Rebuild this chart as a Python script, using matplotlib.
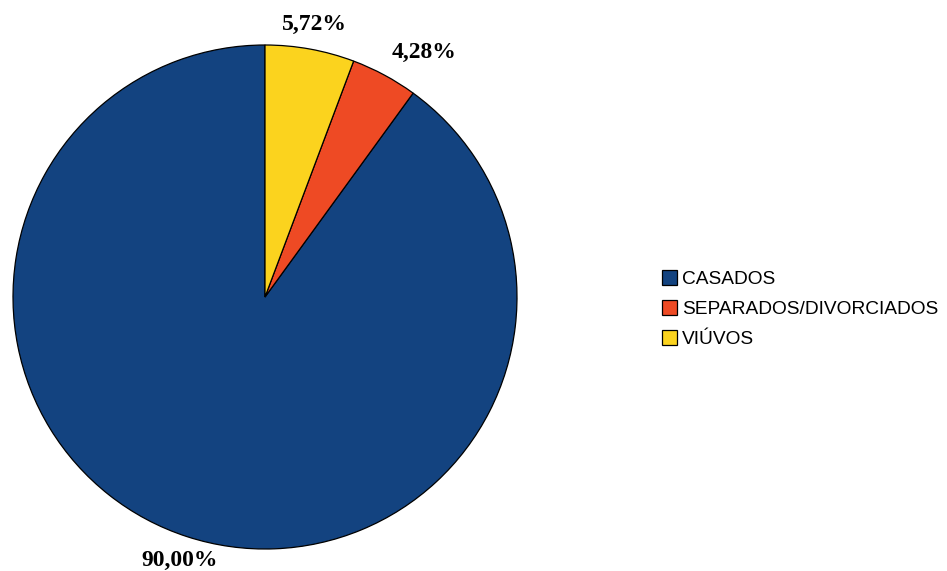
import numpy as np
import matplotlib.pyplot as plt

# Estado civil - distribuição
categorias = ['CASADOS', 'SEPARADOS/DIVORCIADOS', 'VIÚVOS']
valores = [90.00, 4.28, 5.72]
rotulos = ['90,00%', '4,28%', '5,72%']
cores = ['#134380', '#ee4a24', '#fbd31e']

fig = plt.figure(figsize=(9.47, 5.71), dpi=100)
W, H = 947, 571
cx, cy, r = 265, 274, 252
ax = fig.add_axes([(cx - r) / W, (cy - r) / H, 2 * r / W, 2 * r / H])

wedges, _ = ax.pie(valores, colors=cores, startangle=90, counterclock=True,
                   radius=1.0,
                   wedgeprops=dict(edgecolor='black', linewidth=0.9))
ax.set_xlim(-1, 1)
ax.set_ylim(-1, 1)

# rótulos de percentagem fora das fatias
for w, txt in zip(wedges, rotulos):
    ang = np.deg2rad((w.theta1 + w.theta2) / 2)
    ha = 'left' if np.cos(ang) > 0.3 else 'center'
    d = 1.1
    ax.text(d * np.cos(ang) - (0.02 if ha == 'left' else 0), d * np.sin(ang),
            txt, ha=ha, va='center',
            fontsize=17, fontweight='bold', family='Liberation Serif',
            clip_on=False)

fig.legend(wedges, categorias, loc='center left',
           bbox_to_anchor=(652 / W, (H - 309) / H), frameon=False,
           prop={'family': 'Liberation Sans', 'size': 13.8},
           handlelength=0.8, handleheight=0.8, handletextpad=0.25,
           labelspacing=0.62, borderpad=0)

fig.savefig('out.png', dpi=100, facecolor='white')
